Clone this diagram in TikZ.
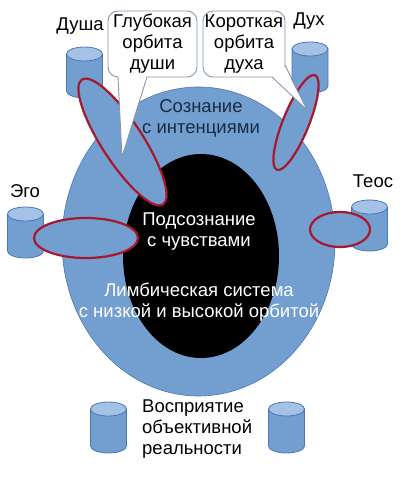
\documentclass[tikz,border=0pt]{standalone}
\usepackage{fontspec}
\setmainfont{Liberation Sans}
\usetikzlibrary{shapes.geometric}
\definecolor{bluefill}{HTML}{729FCF}
\definecolor{blueline}{HTML}{4A78B4}
\definecolor{bluetop}{HTML}{A4C1E6}
\definecolor{redline}{HTML}{A8182C}
\definecolor{calline}{HTML}{8797B0}
\definecolor{navy}{HTML}{1C2B45}
\tikzset{
  bigtext/.style={font=\fontsize{18.5}{21}\selectfont, align=center, inner sep=0pt},
  orbit/.style={ellipse, fill=bluefill, draw=redline, line width=2.2pt, inner sep=0pt},
  calbox/.style={rectangle, rounded corners=10pt, fill=white, draw=calline, line width=0.9pt},
  calline/.style={draw=calline, line width=0.9pt, line join=miter},
  cyl/.pic={
    \path[fill=bluefill, draw=blueline, line width=0.8pt]
      (-18,0) -- (-18,-37) arc[start angle=180, end angle=360, x radius=18, y radius=7] -- (18,0) -- cycle;
    \path[fill=bluetop, draw=blueline, line width=0.8pt] (0,0) ellipse[x radius=18, y radius=7];
  }
}
\begin{document}
\begin{tikzpicture}[x=1pt,y=1pt]
\useasboundingbox (0,0) rectangle (400,479);
% main ellipses
\node[ellipse, fill=bluefill, draw=blueline, line width=0.6pt, minimum width=273pt, minimum height=309pt, inner sep=0pt] (outer) at (198.5,237.5) {};
\node[ellipse, fill=black, minimum width=156pt, minimum height=204pt, inner sep=0pt] (inner) at (201,223) {};
% cylinders
\pic at (84.5,425) {cyl};
\pic at (310,430) {cyl};
\pic at (25.5,265) {cyl};
\pic at (369.5,272) {cyl};
\pic at (108.5,70) {cyl};
\pic at (286.5,70) {cyl};
% orbits
\node[orbit, minimum width=149pt, minimum height=41pt, rotate=-57] (soulorb) at (122.5,337) {};
\node[orbit, minimum width=102pt, minimum height=26pt, rotate=68] (spiritorb) at (296,356.5) {};
\node[orbit, minimum width=104pt, minimum height=40pt] (egoorb) at (86,241) {};
\node[orbit, minimum width=60pt, minimum height=35pt] (teosorb) at (340,249.5) {};
% callouts
\node[calbox, minimum width=89pt, minimum height=66pt] (cal1) at (152.5,435) {};
\coordinate (tip1) at (122,322);
\fill[white] (118,403.5) -- (tip1) -- (147,403.5) -- cycle;
\draw[calline] (118,402) -- (tip1) -- (147,402);
\node[calbox, minimum width=82pt, minimum height=66pt] (cal2) at (244,435) {};
\coordinate (tip2) at (307,369);
\fill[white] (271,403.5) -- (tip2) -- (283.5,414) -- cycle;
\draw[calline] (272,402) -- (tip2) -- (285,414);
\node[bigtext] (t1) at (cal1) {Глубокая\\орбита\\души};
\node[bigtext] (t2) at (cal2) {Короткая\\орбита\\духа};
% labels
\node[bigtext] (dusha) at (80,453) {Душа};
\node[bigtext] (dukh) at (309,458) {Дух};
\node[bigtext] (ego) at (25,288) {Эго};
\node[bigtext] (teos) at (373,298) {Теос};
\node[bigtext, text=navy] (soz) at (201,361) {Сознание\\с интенциями};
\node[bigtext, text=white] (podsoz) at (199,247) {Подсознание\\с чувствами};
\node[bigtext, text=white] (limb) at (199,176.5) {Лимбическая система\\с низкой и высокой орбитой};
\node[bigtext, align=left, anchor=west] (vospr) at (142,50) {Восприятие\\объективной\\реальности};
\end{tikzpicture}
\end{document}
